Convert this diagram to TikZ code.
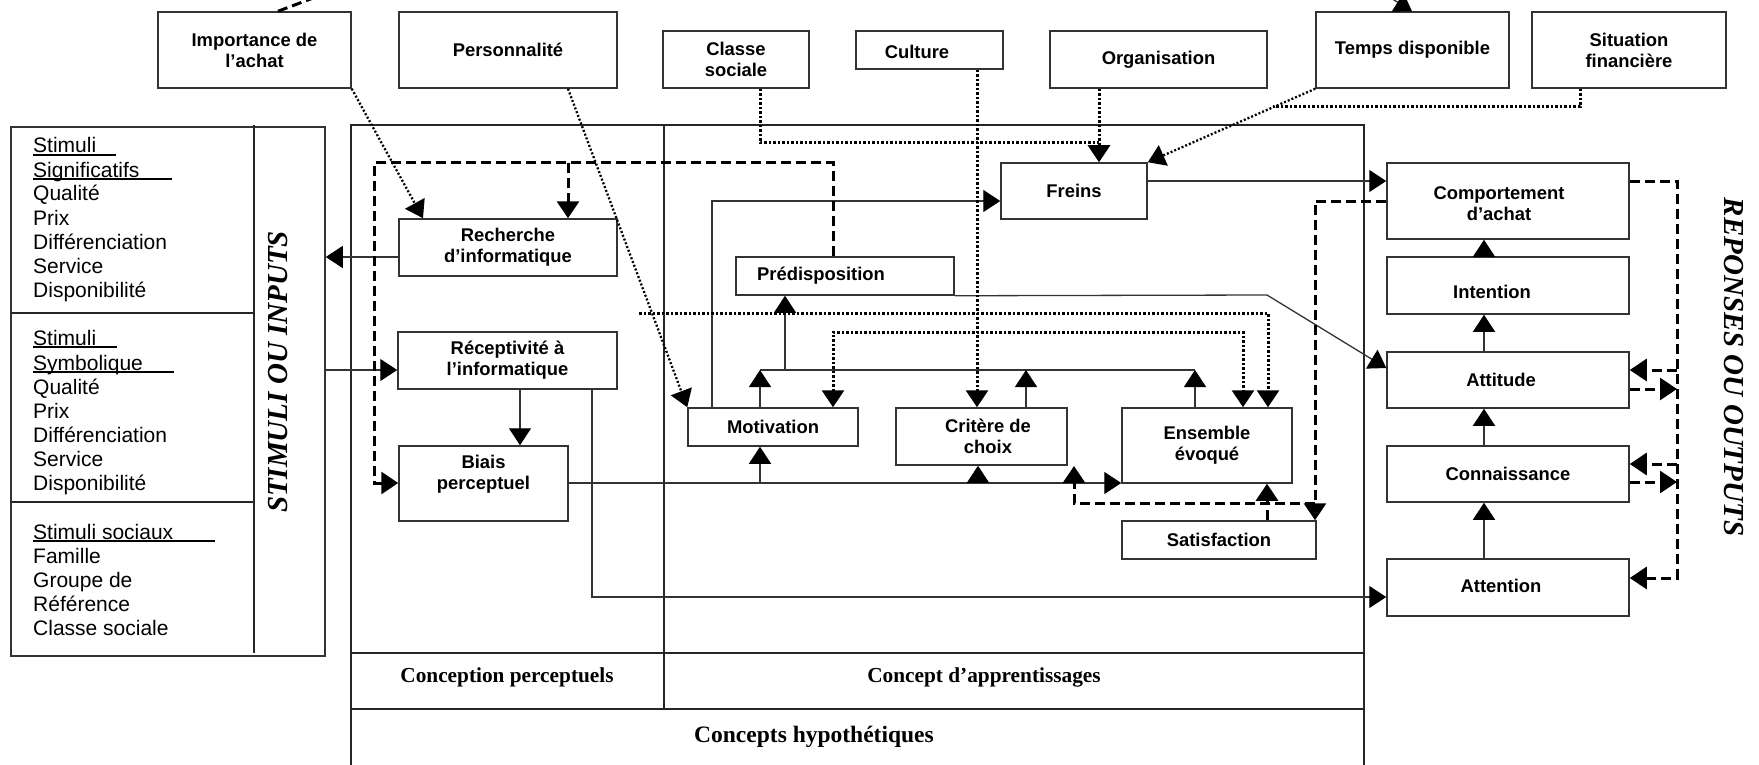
\documentclass[tikz,border=0pt]{standalone}
\usepackage{fontspec}
\setmainfont{Liberation Serif}
\setsansfont{Liberation Sans}
\usetikzlibrary{arrows.meta}

\begin{document}
\begin{tikzpicture}[x=1pt,y=-1pt,
  box/.style={draw=black!80, line width=1.5pt, rectangle, inner sep=0pt, align=center,
    font=\sffamily\bfseries\fontsize{18.4}{21}\selectfont},
  boxtext/.style={inner sep=0pt, align=center, font=\sffamily\bfseries\fontsize{18.4}{21}\selectfont},
  panel/.style={draw=black!80, line width=1.5pt, rectangle, inner sep=0pt},
  frame/.style={draw=black!85, line width=1.5pt},
  link/.style={draw=black!80, line width=1.3pt},
  arr/.style={-{Triangle[length=17pt,width=22pt,color=black]}},
  arrboth/.style={{Triangle[length=17pt,width=22pt,color=black]}-{Triangle[length=17pt,width=22pt,color=black]}},
  dashline/.style={draw=black, line width=3pt, dash pattern=on 10pt off 5pt},
  dotline/.style={draw=black, line width=3pt, dash pattern=on 2.5pt off 2pt},
  thindot/.style={draw=black, line width=2.3pt, dash pattern=on 2pt off 2pt},
  stimtxt/.style={anchor=base west, inner sep=0pt, font=\sffamily\fontsize{21}{21}\selectfont},
  uline/.style={draw=black, line width=1.8pt},
  sidelabel/.style={inner sep=0pt, font=\rmfamily\bfseries\itshape\fontsize{29}{29}\selectfont},
  rowlabel/.style={inner sep=0pt, font=\rmfamily\bfseries\fontsize{21.3}{21.3}\selectfont}
]
\useasboundingbox (0,0) rectangle (1759,765);
\clip (0,0) rectangle (1759,765);

% ---------- stimuli panel ----------
\node[panel, minimum width=314pt, minimum height=529pt] (stim) at (168,391.5) {};
\draw[frame] (254,125) -- (254,653);
\draw[frame] (11,313) -- (254,313);
\draw[frame] (11,502) -- (254,502);

\node[stimtxt] (s1a) at (33,153) {Stimuli};
\node[stimtxt] (s1b) at (33,177) {Significatifs};
\node[stimtxt] (s1c) at (33,200) {Qualité};
\node[stimtxt] (s1d) at (33,225) {Prix};
\node[stimtxt] (s1e) at (33,249) {Différenciation};
\node[stimtxt] (s1f) at (33,273) {Service};
\node[stimtxt] (s1g) at (33,297) {Disponibilité};
\draw[uline] (33,155) -- (116,155);
\draw[uline] (33,179) -- (172,179);

\node[stimtxt] (s2a) at (33,345) {Stimuli};
\node[stimtxt] (s2b) at (33,370) {Symbolique};
\node[stimtxt] (s2c) at (33,394) {Qualité};
\node[stimtxt] (s2d) at (33,418) {Prix};
\node[stimtxt] (s2e) at (33,442) {Différenciation};
\node[stimtxt] (s2f) at (33,466) {Service};
\node[stimtxt] (s2g) at (33,490) {Disponibilité};
\draw[uline] (33,347) -- (117,347);
\draw[uline] (33,372) -- (174,372);

\node[stimtxt] (s3a) at (33,539) {Stimuli sociaux};
\node[stimtxt] (s3b) at (33,563) {Famille};
\node[stimtxt] (s3c) at (33,587) {Groupe de};
\node[stimtxt] (s3d) at (33,611) {Référence};
\node[stimtxt] (s3e) at (33,635) {Classe sociale};
\draw[uline] (33,541) -- (215,541);

\node[sidelabel, rotate=90] (inlbl) at (278,372) {STIMULI OU INPUTS};
\node[sidelabel, rotate=-90] (outlbl) at (1734,367) {REPONSES OU OUTPUTS};

% ---------- hypothetical concepts frame ----------
\draw[frame] (351,770) -- (351,125) -- (1364,125) -- (1364,770);
\draw[frame] (664,125) -- (664,709);
\draw[frame] (351,653) -- (1364,653);
\draw[frame] (351,709) -- (1364,709);
\node[rowlabel] (rowperc) at (507,677) {Conception perceptuels};
\node[rowlabel] (rowappr) at (984,677) {Concept d’apprentissages};
\node[rowlabel, font=\rmfamily\bfseries\fontsize{23.5}{23.5}\selectfont] (rowhyp) at (814,737) {Concepts hypothétiques};

% ---------- exogenous variables ----------
\node[box, minimum width=193pt, minimum height=76pt] (imp) at (254.5,50) {Importance de\\l’achat};
\node[box, minimum width=218pt, minimum height=76pt] (pers) at (508,50) {Personnalité};
\node[box, minimum width=146pt, minimum height=57pt] (cls) at (736,59.5) {Classe\\sociale};
\node[box, minimum width=147pt, minimum height=38pt] (cult) at (929.5,50) {};
\node[boxtext] (culttxt) at (917,52) {Culture};
\node[box, minimum width=217pt, minimum height=57pt] (org) at (1158.5,59.5) {Organisation};
\node[box, minimum width=193pt, minimum height=76pt] (temps) at (1412.5,50) {Temps disponible};
\node[box, minimum width=194pt, minimum height=76pt] (sit) at (1629,50) {Situation\\financière};

% ---------- perceptual constructs ----------
\node[box, minimum width=218pt, minimum height=57pt] (rech) at (508,247.5) {Recherche\\d’informatique};
\node[box, minimum width=219pt, minimum height=57pt] (recep) at (507.5,360.5) {Réceptivité à\\l’informatique};
\node[box, minimum width=169pt, minimum height=75pt] (biais) at (483.5,483.5) {};
\node[boxtext] (biaistxt) at (483.5,474) {Biais\\perceptuel};

% ---------- learning constructs ----------
\node[box, minimum width=146pt, minimum height=56pt] (freins) at (1074,191) {Freins};
\node[box, minimum width=218pt, minimum height=38pt] (pred) at (845,276) {};
\node[boxtext] (predtxt) at (821,276) {Prédisposition};
\node[box, minimum width=170pt, minimum height=38pt] (motiv) at (773,427) {Motivation};
\node[box, minimum width=171pt, minimum height=57pt] (crit) at (981.5,436.5) {};
\node[boxtext] (crittxt) at (988,436) {Critère de\\choix};
\node[box, minimum width=170pt, minimum height=75pt] (ens) at (1207,445.5) {Ensemble\\évoqué};
\node[box, minimum width=194pt, minimum height=38pt] (satis) at (1219,540) {Satisfaction};

% ---------- responses ----------
\node[box, minimum width=242pt, minimum height=76pt] (comp) at (1508,201) {};
\node[boxtext] (comptxt) at (1499,204) {Comportement\\d’achat};
\node[box, minimum width=242pt, minimum height=57pt] (inten) at (1508,285.5) {};
\node[boxtext] (intentxt) at (1492,292) {Intention};
\node[box, minimum width=242pt, minimum height=56pt] (attit) at (1508,380) {};
\node[boxtext] (attittxt) at (1501,380) {Attitude};
\node[box, minimum width=242pt, minimum height=56pt] (conn) at (1508,474) {Connaissance};
\node[box, minimum width=242pt, minimum height=57pt] (atten) at (1508,587.5) {};
\node[boxtext] (attentxt) at (1501,586) {Attention};

% ---------- solid links ----------
\draw[link,arr] (stim.east |- 0,370) -- (recep.west |- 0,370);
\draw[link,arr] (rech.west |- 0,257) -- (stim.east |- 0,257);
\draw[link,arr] (520,0 |- recep.south) -- (520,0 |- biais.north);
\draw[link,arr] (592,0 |- recep.south) |- (atten.west |- 0,597);
\draw[link,arr] (biais.east |- 0,483) -- (ens.west |- 0,483);
\draw[link,arr] (760,483) -- (760,0 |- motiv.south);
\draw[link,arr] (978,483) -- (978,0 |- crit.south);
\draw[link] (760,370) -- (1195,370);
\draw[link,arr] (760,0 |- motiv.north) -- (760,370);
\draw[link,arr] (1026,0 |- crit.north) -- (1026,370);
\draw[link,arr] (1195,0 |- ens.north) -- (1195,370);
\draw[link,arr] (785,370) -- (785,0 |- pred.south);
\draw[link,arr] (712,0 |- motiv.north) |- (freins.west |- 0,201);
\draw[link,arr] (freins.east |- 0,181) -- (comp.west |- 0,181);
\draw[link,arr] (pred.south east) -- (1267,295) -- (attit.west |- 0,368);
\draw[link,arr] (1484,0 |- inten.north) -- (1484,0 |- comp.south);
\draw[link,arr] (1484,0 |- attit.north) -- (1484,0 |- inten.south);
\draw[link,arr] (1484,0 |- conn.north) -- (1484,0 |- attit.south);
\draw[link,arr] (1484,0 |- atten.north) -- (1484,0 |- conn.south);

% ---------- dashed feedback ----------
\draw[dashline,arr] (833,0 |- pred.north) -- (833,163) -- (374,163) -- (374,483) -- (biais.west |- 0,483);
\draw[dashline,arr] (568,163) -- (568,0 |- rech.north);
\draw[dashline,arr] (comp.west |- 0,201) -- (1315,201) -- (1315,0 |- satis.north);
\draw[dashline,arr] (1315,503) -- (1074,503) -- (1074,466);
\draw[dashline,arr] (1267,0 |- satis.north) -- (1267,0 |- ens.south);
\draw[dashline,arr] (comp.east |- 0,181) -- (1677,181) -- (1677,578) -- (atten.east |- 0,578);
\draw[dashline,arr] (1677,370) -- (attit.east |- 0,370);
\draw[dashline,arr] (attit.east |- 0,389) -- (1677,389);
\draw[dashline,arr] (1677,464) -- (conn.east |- 0,464);
\draw[dashline,arr] (conn.east |- 0,482) -- (1677,482);

% ---------- dotted influences ----------
\draw[thindot,arr] (imp.south east) -- (423,0 |- rech.north);
\draw[thindot,arr] (568,0 |- pers.south) -- (motiv.north west);
\draw[dotline] (760,0 |- cls.south) |- (1099,143);
\draw[dotline,arr] (1099,0 |- org.south) -- (1099,0 |- freins.north);
\draw[dotline,arr] (977,0 |- cult.south) -- (977,0 |- crit.north);
\draw[thindot,arr] (temps.south west) -- (freins.north east);
\draw[dotline] (1580,0 |- sit.south) |- (1273,107);
\draw[dotline,arr] (639,313) -| (1268,0 |- ens.north);
\draw[dotline,arrboth] (833,0 |- motiv.north) -- (833,332) -- (1243,332) -- (1243,0 |- ens.north);

% ---------- connectors leaving the top edge ----------
\coordinate (offimp) at (345,-14);
\draw[dashline] (278,0 |- imp.north) -- (offimp);
\coordinate (offtemps) at (1330,-40);
\draw[link,arr] (offtemps) -- (1412,0 |- temps.north);
\end{tikzpicture}
\end{document}
